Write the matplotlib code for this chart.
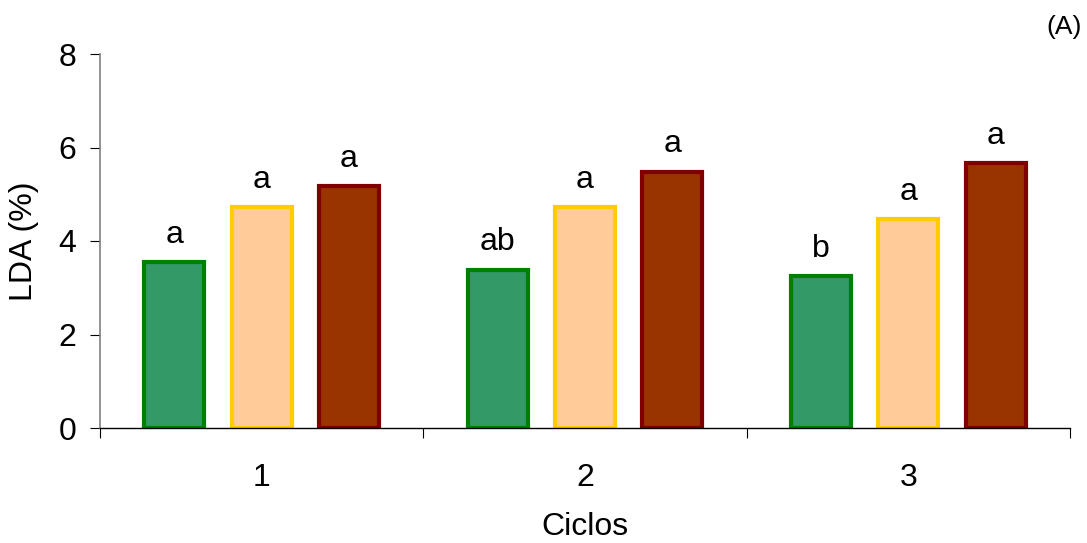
import numpy as np
import matplotlib.pyplot as plt
from matplotlib.ticker import FixedLocator, NullFormatter

plt.rcParams['font.family'] = ['Liberation Sans', 'DejaVu Sans']

ciclos = ['1', '2', '3']
verde = [3.55, 3.38, 3.25]
amarelo = [4.72, 4.72, 4.47]
vermelho = [5.17, 5.48, 5.66]
letras_verde = ['a', 'ab', 'b']
letras_amarelo = ['a', 'a', 'a']
letras_vermelho = ['a', 'a', 'a']

series = [
    (verde, letras_verde, '#339966', '#008000'),
    (amarelo, letras_amarelo, '#FFCC99', '#FFCC00'),
    (vermelho, letras_vermelho, '#993300', '#800000'),
]

fs = 23

fig = plt.figure(figsize=(10.87, 5.43), dpi=100)
ax = fig.add_axes([100 / 1087, 1 - 428 / 543, 970 / 1087, 374 / 543])

x = np.arange(len(ciclos)) + 0.5
width = 0.185
step = 0.27
for i, (vals, letras, face, edge) in enumerate(series):
    pos = x + (i - 1) * step
    ax.bar(pos, vals, width=width, color=face, edgecolor=edge, linewidth=3)
    for px, v, t in zip(pos, vals, letras):
        ax.annotate(t, (px, v), xytext=(0, 9), textcoords='offset points',
                    ha='center', va='bottom', fontsize=fs)

ax.set_xlim(0, len(ciclos))
ax.set_ylim(0, 8)
ax.set_yticks([0, 2, 4, 6, 8])
ax.set_xticks(x)
ax.set_xticklabels(ciclos)
ax.xaxis.set_minor_locator(FixedLocator(np.arange(len(ciclos) + 1)))
ax.xaxis.set_minor_formatter(NullFormatter())
ax.tick_params(axis='x', which='major', length=0, pad=25, labelsize=fs)
ax.tick_params(axis='x', which='minor', length=7, width=0.8, direction='out')
ax.tick_params(axis='y', length=7, width=0.8, direction='out', labelsize=fs, pad=10)

for s in ['top', 'right']:
    ax.spines[s].set_visible(False)
ax.spines['left'].set_color('#808080')
ax.spines['left'].set_linewidth(1.2)
ax.spines['bottom'].set_linewidth(1)

ax.set_ylabel('LDA (%)', fontsize=fs, labelpad=14)
ax.set_xlabel('Ciclos', fontsize=fs, labelpad=14)

fig.text(1082 / 1087, 1 - 27 / 543, '(A)', ha='right', va='center', fontsize=19)

fig.savefig('out.png', dpi=100)
